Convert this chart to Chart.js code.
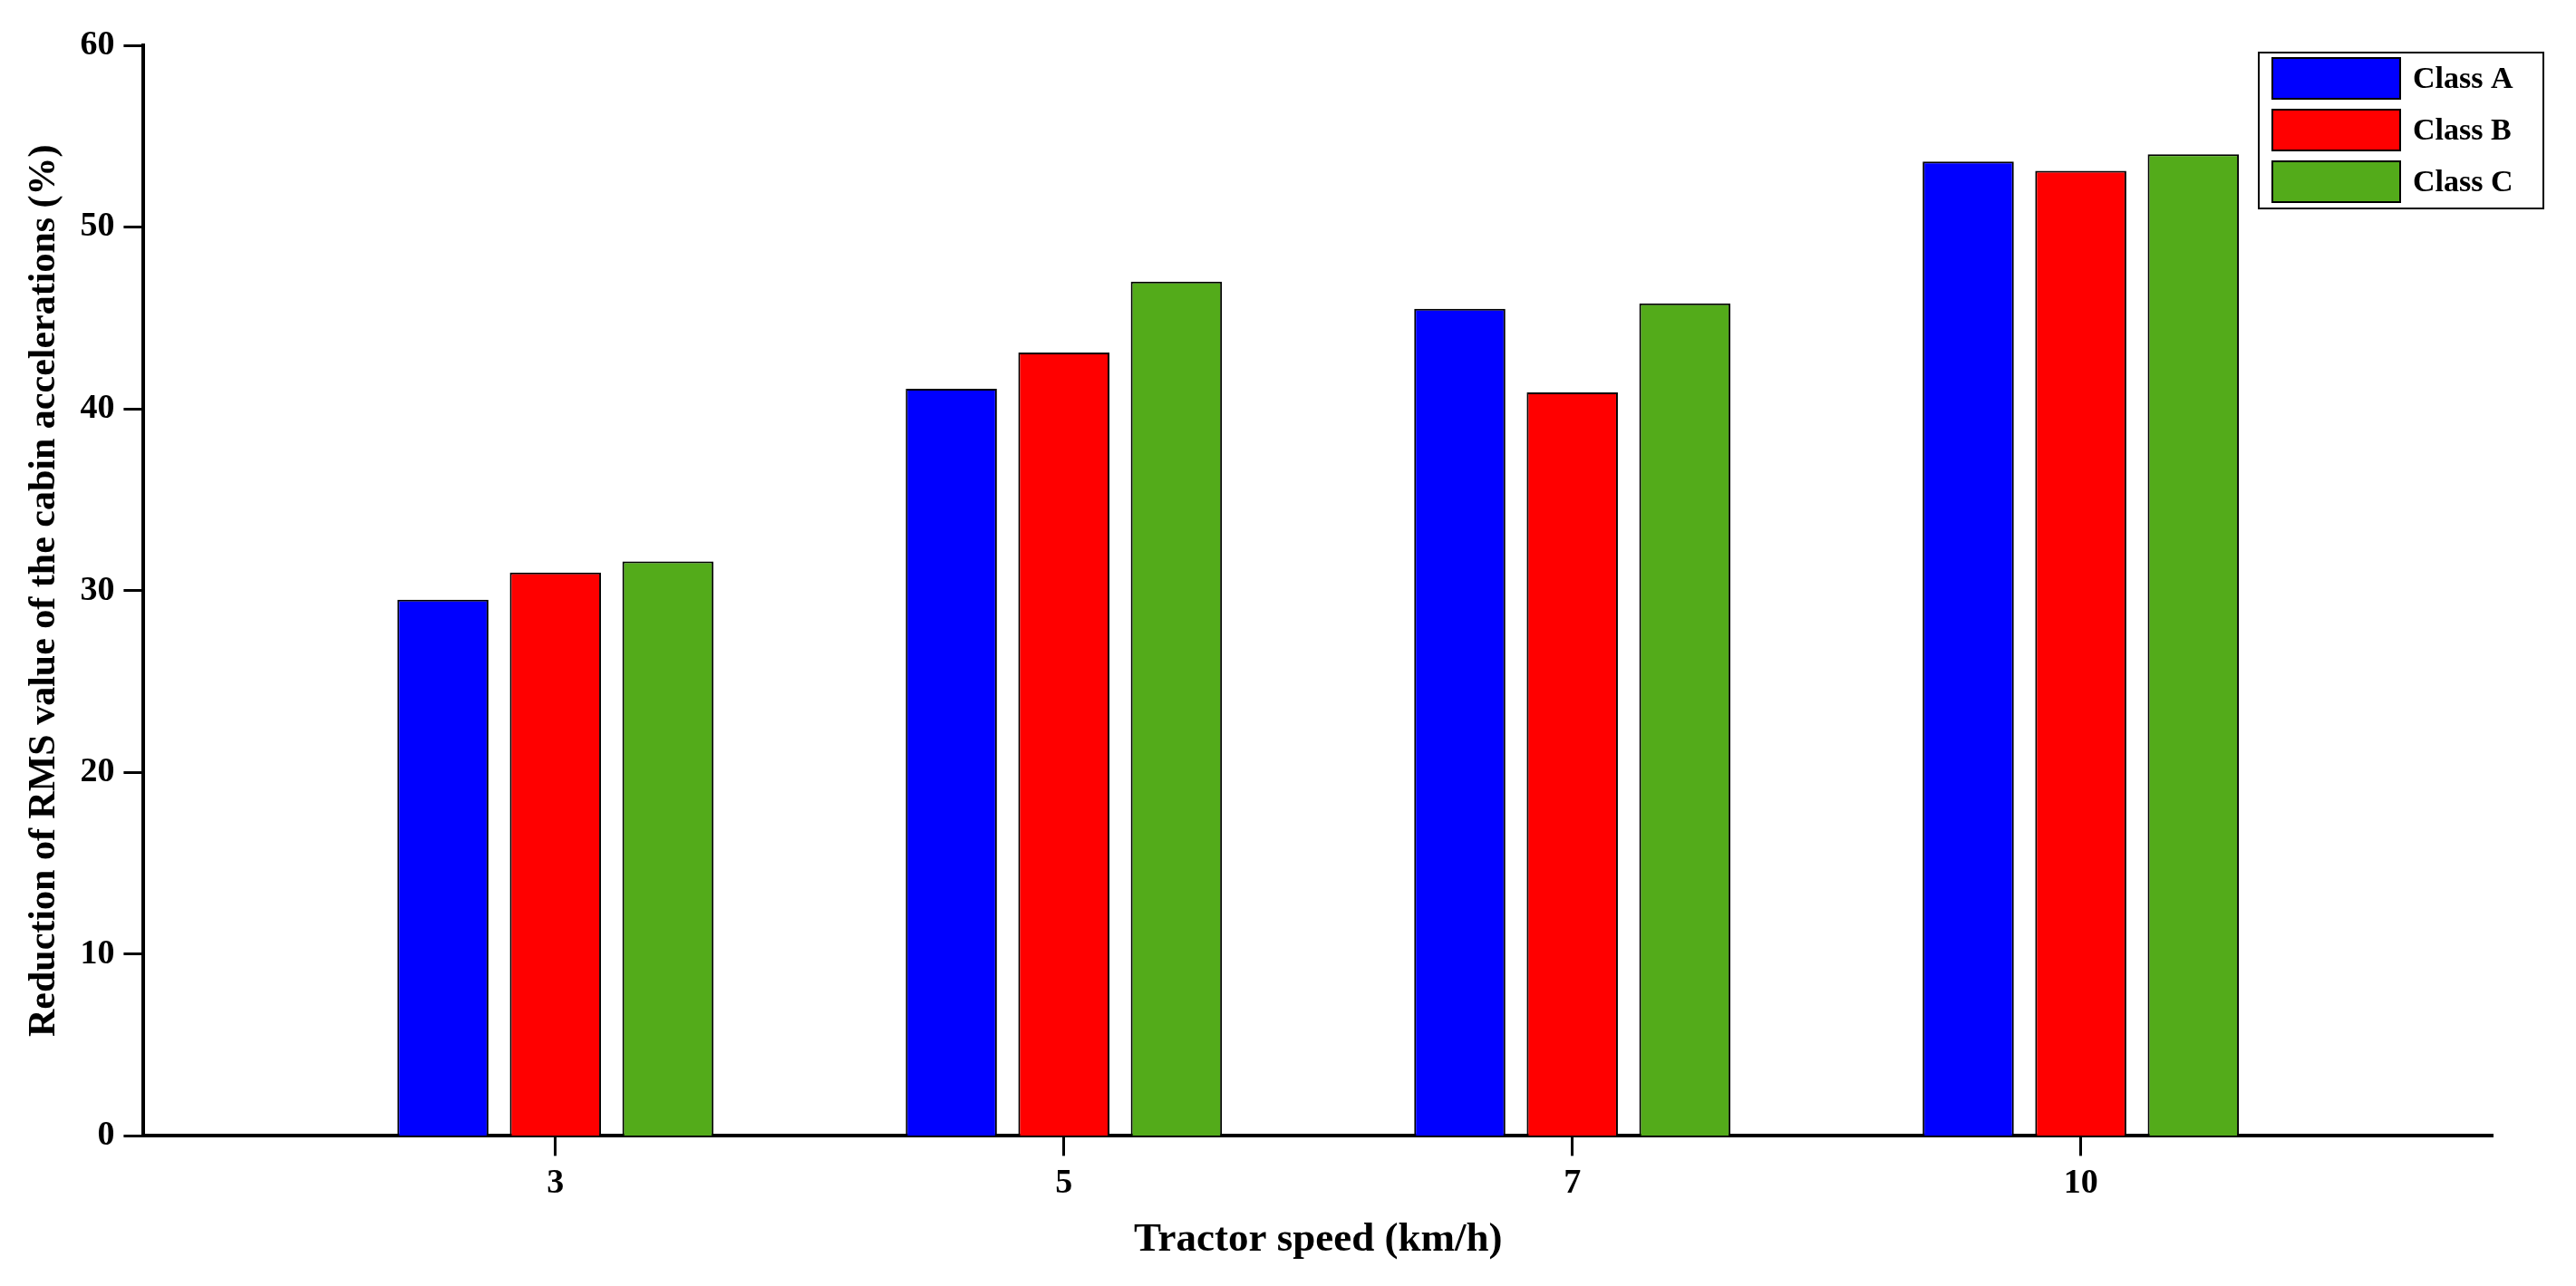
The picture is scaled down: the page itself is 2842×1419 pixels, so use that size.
<!DOCTYPE html>
<html>
<head>
<meta charset="utf-8">
<script src="https://cdn.jsdelivr.net/npm/chart.js@4"></script>
<style>
  body { margin: 0; background: #fff; }
  #wrap { width: 2842px; height: 1419px; }
</style>
</head>
<body>
<div id="wrap"><canvas id="myChart"></canvas></div>
<script>
const speeds = ['3', '5', '7', '10'];
const classA = [29.5, 41.1, 45.5, 53.6];
const classB = [31.0, 43.1, 40.9, 53.1];
const classC = [31.6, 47.0, 45.8, 54.0];
const yTicks = [0, 10, 20, 30, 40, 50, 60];

const font = 'Liberation Serif';

function pts(vals) {
    return vals.map(function (v, i) { return { x: i, y: v }; });
}

function ds(label, vals, color) {
    return {
        label: label,
        data: pts(vals),
        backgroundColor: color,
        borderColor: '#000',
        borderWidth: 2,
        categoryPercentage: 0.664,
        barPercentage: 0.81
    };
}

// boxed legend in the top right corner, drawn by hand
const boxLegend = {
    id: 'boxLegend',
    afterDraw: function (chart) {
        const c = chart.ctx;
        const a = chart.chartArea;
        const left = a.right - 258, top = a.top + 8;
        c.save();
        c.fillStyle = '#fff';
        c.fillRect(left, top, 314, 172);
        c.strokeStyle = '#000';
        c.lineWidth = 2;
        c.strokeRect(left, top, 314, 172);
        c.font = 'bold 34px ' + font;
        c.textBaseline = 'middle';
        chart.data.datasets.forEach(function (d, i) {
            const cy = top + 28 + i * 57;
            c.fillStyle = d.backgroundColor;
            c.fillRect(left + 15, cy - 22, 141, 45);
            c.strokeStyle = '#000';
            c.strokeRect(left + 15, cy - 22, 141, 45);
            c.fillStyle = '#000';
            c.fillText(d.label, left + 170, cy + 2);
        });
        c.restore();
    }
};

new Chart(document.getElementById('myChart'), {
    type: 'bar',
    data: {
        datasets: [
            ds('Class A', classA, '#0000ff'),
            ds('Class B', classB, '#ff0000'),
            ds('Class C', classC, '#53ab1a')
        ]
    },
    plugins: [boxLegend],
    options: {
        responsive: true,
        maintainAspectRatio: false,
        devicePixelRatio: 1,
        animation: false,
        layout: { padding: { top: 50, right: 92, bottom: 20, left: 20 } },
        plugins: {
            legend: { display: false },
            tooltip: { enabled: false }
        },
        scales: {
            x: {
                type: 'linear',
                offset: false,
                min: -0.81,
                max: 3.81,
                afterBuildTicks: function (axis) {
                    axis.ticks = speeds.map(function (s, i) { return { value: i }; });
                },
                ticks: {
                    callback: function (v) { return speeds[v]; },
                    color: '#000',
                    padding: 8,
                    font: { family: font, weight: 'bold', size: 38 }
                },
                grid: { offset: false, drawOnChartArea: false, tickLength: 22, tickWidth: 3, color: '#000' },
                border: { color: '#000', width: 4 },
                title: {
                    display: true,
                    text: 'Tractor speed (km/h)',
                    color: '#000',
                    font: { family: font, weight: 'bold', size: 45 }
                }
            },
            y: {
                min: 0,
                max: 60,
                afterBuildTicks: function (axis) {
                    axis.ticks = yTicks.map(function (v) { return { value: v }; });
                },
                ticks: {
                    color: '#000',
                    padding: 10,
                    font: { family: font, weight: 'bold', size: 38 }
                },
                grid: { drawOnChartArea: false, tickLength: 22, tickWidth: 3, color: '#000' },
                border: { color: '#000', width: 4 },
                title: {
                    display: true,
                    text: 'Reduction of RMS value of the cabin accelerations (%)',
                    color: '#000',
                    font: { family: font, weight: 'bold', size: 42 }
                }
            }
        }
    }
});
</script>
</body>
</html>
